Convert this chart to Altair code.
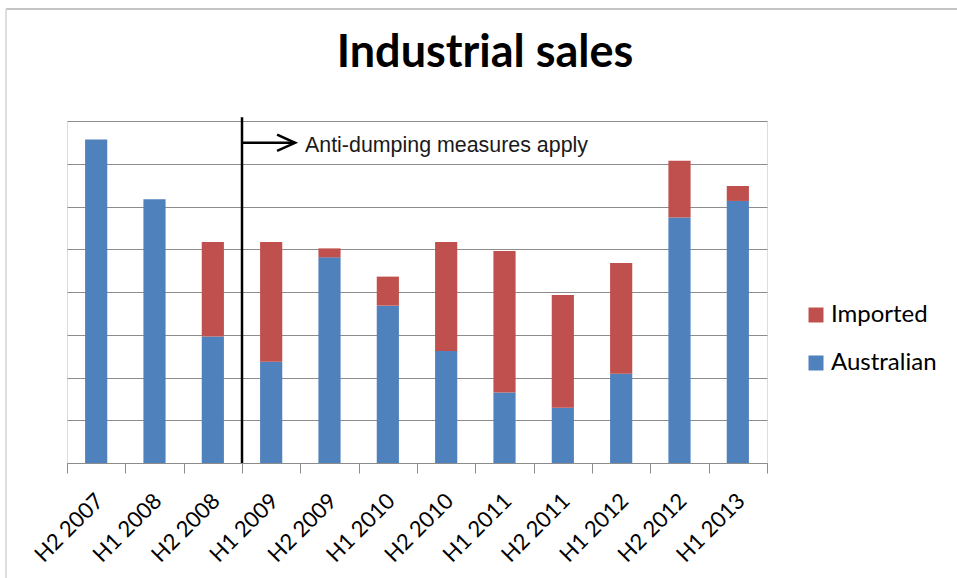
import altair as alt
import pandas as pd

periods = ["H2 2007", "H1 2008", "H2 2008", "H1 2009", "H2 2009", "H1 2010",
           "H2 2010", "H1 2011", "H2 2011", "H1 2012", "H2 2012", "H1 2013"]
australian = [7.57, 6.17, 2.96, 2.37, 4.81, 3.68, 2.62, 1.65, 1.29, 2.09, 5.74, 6.13]
imported = [0.0, 0.0, 2.21, 2.80, 0.21, 0.68, 2.55, 3.31, 2.64, 2.59, 1.33, 0.35]
series = ["Imported", "Australian"]
colors = ["#C0504D", "#4F81BD"]

rows = []
for p, a, i in zip(periods, australian, imported):
    rows.append({"period": p, "series": "Australian", "value": a, "ord": 0})
    rows.append({"period": p, "series": "Imported", "value": i, "ord": 1})
df = pd.DataFrame(rows)

W, H = 700, 342
YMAX = 8

bars = alt.Chart(df).mark_bar(width=alt.RelativeBandSize(0.38)).encode(
    x=alt.X("period:N", sort=periods,
            scale=alt.Scale(paddingInner=0, paddingOuter=0),
            axis=alt.Axis(title=None, tickBand="extent", labelAngle=-45, grid=False,
                          domainColor="#8c8c8c", tickColor="#8c8c8c", tickSize=10,
                          labelFont="Lato", labelFontSize=22, labelColor="#000000",
                          labelPadding=17, labelOffset=-4)),
    y=alt.Y("value:Q", stack="zero",
            scale=alt.Scale(domain=[0, YMAX], nice=False),
            axis=alt.Axis(title=None, labels=False, ticks=False, domain=False,
                          grid=True, gridColor="#8c8c8c", gridWidth=1,
                          values=list(range(YMAX + 1)))),
    color=alt.Color("series:N",
                    scale=alt.Scale(domain=series, range=colors),
                    legend=alt.Legend(title=None, orient="none", legendX=737, legendY=182,
                                      symbolType="square", symbolSize=225,
                                      symbolStrokeWidth=0, labelFont="Lato",
                                      labelFontSize=24, labelColor="#000000",
                                      rowPadding=24, labelOffset=3)),
    order=alt.Order("ord:Q"),
)

# Annotation: measures start at the boundary between H2 2008 and H1 2009 (index 3)
xq = alt.Scale(domain=[0, len(periods)], nice=False, zero=False)
ys = alt.Scale(domain=[0, YMAX], nice=False)

vline_df = pd.DataFrame({"x": [3], "y0": [0], "y1": [8.09]})
vline = alt.Chart(vline_df).mark_rule(color="black", strokeWidth=2.5).encode(
    x=alt.X("x:Q", scale=xq, axis=None),
    y=alt.Y("y0:Q", scale=ys),
    y2="y1:Q",
)

arrow_df = pd.DataFrame({"x0": [3], "x1": [3.91], "y": [7.49]})
shaft = alt.Chart(arrow_df).mark_rule(color="black", strokeWidth=2.5).encode(
    x=alt.X("x0:Q", scale=xq, axis=None),
    x2="x1:Q",
    y=alt.Y("y:Q", scale=ys),
)
head = alt.Chart(arrow_df).mark_point(
    shape="M -2 -0.9 L 0 0 L -2 0.9", filled=False, size=324,
    color="black", strokeWidth=2.5, opacity=1, strokeJoin="miter"
).encode(
    x=alt.X("x1:Q", scale=xq, axis=None),
    y=alt.Y("y:Q", scale=ys),
)

label_df = pd.DataFrame({"x": [4.08], "y": [7.28], "t": ["Anti-dumping measures apply"]})
label = alt.Chart(label_df).mark_text(
    align="left", baseline="alphabetic", font="Liberation Sans", fontSize=21.4,
    color="#1a1a1a"
).encode(
    x=alt.X("x:Q", scale=xq, axis=None),
    y=alt.Y("y:Q", scale=ys),
    text="t:N",
)

# Chart-area frame (top and left edges)
frame_top = alt.Chart(pd.DataFrame({"a": [0]})).mark_rule(color="#b0b0b0", strokeWidth=1.5).encode(
    x=alt.value(-61), x2=alt.value(900), y=alt.value(-112)
)
frame_left = alt.Chart(pd.DataFrame({"a": [0]})).mark_rule(color="#d4d4d4", strokeWidth=1.5).encode(
    x=alt.value(-61), y=alt.value(-112), y2=alt.value(470)
)

chart = alt.layer(bars, vline, shaft, head, label, frame_top, frame_left).resolve_scale(
    x="independent"
).properties(
    width=W, height=H,
    title=alt.TitleParams("Industrial sales", font="Lato", fontSize=45, fontWeight="bold",
                          anchor="middle", dx=68, dy=72, color="#000000"),
    autosize=alt.AutoSizeParams(type="none"),
    padding={"left": 67, "top": 121, "right": 190, "bottom": 115},
).configure_view(stroke=None).configure(background="white")

chart.save("out.html", embed_options={"renderer": "svg", "actions": False})
